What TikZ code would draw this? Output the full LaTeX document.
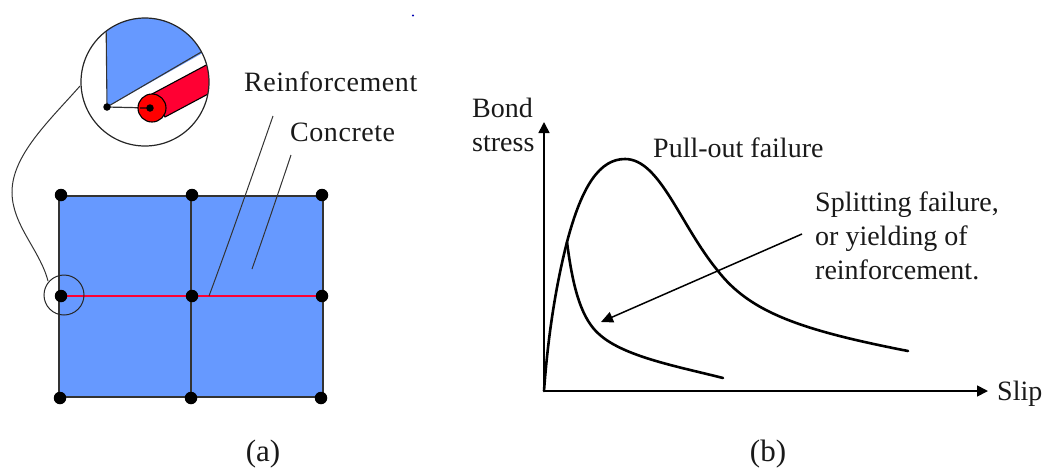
\documentclass[tikz,border=0pt]{standalone}
\usepackage{fontspec}
\setmainfont{Liberation Serif}
\usetikzlibrary{arrows.meta}
\definecolor{conc}{HTML}{6699FF}
\definecolor{reb}{HTML}{FF0033}
\newfontfamily\spacedlab[LetterSpace=2]{Liberation Serif}
\tikzset{
 lab/.style={inner sep=0pt,font=\fontsize{28}{32}\selectfont,text=black!90},
 spaced lab/.style={lab,font=\spacedlab\fontsize{28}{32}\selectfont},
 capt/.style={lab,anchor=center,font=\fontsize{31}{34}\selectfont},
 joint/.style={circle,fill=black,inner sep=0pt,minimum size=12.5pt},
 curve/.style={line width=2.6pt,line cap=round,line join=round},
 axis/.style={line width=1.7pt,-{Triangle[length=11pt,width=11pt]}},
 thin leader/.style={line width=1pt,black!80},
}
\begin{document}
\begin{tikzpicture}[x=1pt,y=-1pt]
\useasboundingbox (0,0) rectangle (1045,467);
% panel (a)
\draw[fill=conc,line width=1.1pt,draw=black!80] (59,196) rectangle (323,397);
\draw[line width=1.3pt,black!80] (191,196) -- (191,397);
\coordinate (rL) at (61,296); \coordinate (rR) at (322,296);
\draw[line width=1.2pt,reb] (rL) -- (rR);
\node[joint] (n1) at (61,195) {};
\node[joint] (n2) at (192,195) {};
\node[joint] (n3) at (322,195) {};
\node[joint] (n4) at (61,296) {};
\node[joint] (n5) at (192,296) {};
\node[joint] (n6) at (322,296) {};
\node[joint] (n7) at (60,398) {};
\node[joint] (n8) at (191,398) {};
\node[joint] (n9) at (321,398) {};
\node[circle,draw=black!85,line width=1pt,inner sep=0pt,minimum size=40pt] (zoomc) at (64,295) {};
% magnified detail
\begin{scope}
\clip (145,82) circle (64);
\fill[conc] (107,107) -- (106,15) -- (215,15) -- (215,46) -- cycle;
\draw[line width=1.1pt,black!80] (106,15) -- (107,107) -- (215,44);
\fill[reb,draw=black,line width=1.1pt] (152,94) -- (225,55) -- (225,85) -- (165,117) -- cycle;
\end{scope}
\node[circle,draw=black!85,line width=1.2pt,inner sep=0pt,minimum size=128pt] (big) at (145,82) {};
\draw[line width=1.2pt,black!80] (107,107) -- (150,108);
\node[circle,fill=red,draw=black,line width=1.1pt,inner sep=0pt,minimum size=28pt] (bar) at (152,108) {};
\draw[line width=1.2pt,black!60!red] (140,108) -- (150,108);
\node[joint,minimum size=7.5pt] (barc) at (150,108) {};
\node[joint,minimum size=7.5pt] (apex) at (107,107) {};
\coordinate (lk1) at (80,86);
\coordinate (lk2) at (48,281);
\draw[thin leader] (lk1) .. controls (50,120) and (12,155) .. (12,192)
   .. controls (12,225) and (40,250) .. (lk2);
% leaders
\node[spaced lab,anchor=base west] (reinf) at (244,91) {Reinforcement};
\node[spaced lab,anchor=base west] (concr) at (290,141) {Concrete};
\coordinate (rtip) at (209,296);
\coordinate (rtop) at (273,116);
\coordinate (ctip) at (252,269);
\coordinate (ctop) at (291,155);
\draw[thin leader] (rtip) .. controls (228,245) and (250,182) .. (rtop);
\draw[thin leader] (ctip) .. controls (265,232) and (280,188) .. (ctop);
\node[capt] (capa) at (263,454) {(a)};
\fill[blue!70!black] (413,15.5) circle (1.2);
% panel (b)
\coordinate (O) at (544,391);
\coordinate (Yt) at (544,122);
\coordinate (Xt) at (988,391);
\coordinate (branch) at (567,242);
\draw[axis] (O) -- (Yt);
\draw[axis] (O) -- (Xt);
\draw[curve] (O) .. controls (548,335) and (556,285) .. (branch)
   .. controls (582,185) and (600,159) .. (625,159)
   .. controls (660,159) and (680,225) .. (718,271)
   .. controls (750,312) and (800,330) .. (908,351);
\draw[curve] (branch) .. controls (573,290) and (582,320) .. (600,335)
   .. controls (625,357) and (680,367) .. (723,378);
\coordinate (a1) at (802,234);
\coordinate (a2) at (601,322);
\draw[line width=1.5pt,-{Triangle[length=12pt,width=11pt]}] (a1) -- (a2);
\node[lab,anchor=base west] (bond) at (472,117) {Bond};
\node[lab,anchor=base west] (stress) at (472,151) {stress};
\node[lab,anchor=base west] (pull) at (653,157) {Pull-out failure};
\node[lab,anchor=base west] (s1) at (815,211) {Splitting failure,};
\node[lab,anchor=base west] (s2) at (815,245) {or yielding of};
\node[lab,anchor=base west] (s3) at (815,279) {reinforcement.};
\node[lab,anchor=base west] (slip) at (997,400) {Slip};
\node[capt] (capb) at (768,454) {(b)};
\end{tikzpicture}
\end{document}
